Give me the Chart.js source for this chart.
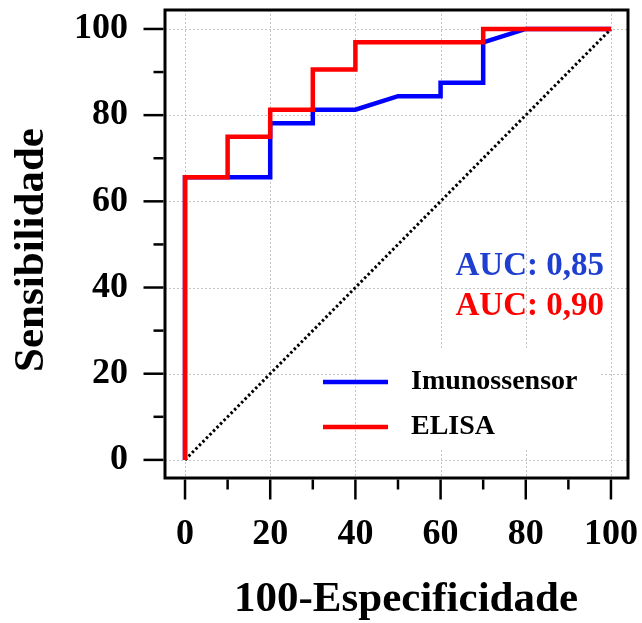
<!DOCTYPE html>
<html><head><meta charset="utf-8">
<script src="https://cdn.jsdelivr.net/npm/chart.js@4/dist/chart.umd.min.js"></script>
<style>html,body{margin:0;padding:0;background:#fff;}#wrap{width:642px;height:623px;}</style>
</head><body><div id="wrap"><canvas id="c" width="642" height="623"></canvas></div>
<script>
const imunoX = [0,0,20,20,30,30,40,50,60,60,70,70,80,100];
const imunoY = [0,65.6,65.6,78.1,78.1,81.25,81.25,84.4,84.4,87.5,87.5,96.9,100,100];
const elisaX = [0,0,10,10,20,20,30,30,40,40,70,70,100];
const elisaY = [0,65.6,65.6,75,75,81.25,81.25,90.6,90.6,96.9,96.9,100,100];
const refX = [0,100];
const refY = [0,100];
const tickValues = [0,10,20,30,40,50,60,70,80,90,100];
const seriesNames = ['Imunossensor','ELISA'];
const aucLabels = ['AUC: 0,85','AUC: 0,90'];
const xTitle = '100-Especificidade';
const yTitle = 'Sensibilidade';

const pts = (xs, ys) => xs.map((x,i)=>({x:x, y:ys[i]}));
const FONT = '"Liberation Serif", "Times New Roman", serif';

const decor = {
  id:'decor',
  beforeDatasetsDraw(chart){
    const {ctx, chartArea:a, scales:{x,y}} = chart;
    ctx.save();
    ctx.strokeStyle = '#c4c4c4'; ctx.lineWidth = 1; ctx.setLineDash([2,2]);
    tickValues.filter(v=>v%20===0).forEach(v=>{
      const px = Math.round(x.getPixelForValue(v))+0.5;
      ctx.beginPath(); ctx.moveTo(px,a.top); ctx.lineTo(px,a.bottom); ctx.stroke();
      const py = Math.round(y.getPixelForValue(v))+0.5;
      ctx.beginPath(); ctx.moveTo(a.left,py); ctx.lineTo(a.right,py); ctx.stroke();
    });
    ctx.setLineDash([]);
    ctx.fillStyle = '#fff';
    ctx.fillRect(x.getPixelForValue(40.6), y.getPixelForValue(25.5), x.getPixelForValue(97.4)-x.getPixelForValue(40.6), y.getPixelForValue(2.3)-y.getPixelForValue(25.5));
    ctx.restore();
  },
  afterDatasetsDraw(chart){
    const {ctx, chartArea:a, scales:{x,y}} = chart;
    ctx.save();
    ctx.strokeStyle = '#000'; ctx.lineWidth = 3;
    ctx.strokeRect(a.left, a.top, a.right-a.left, a.bottom-a.top);
    ctx.lineWidth = 2.5;
    tickValues.forEach(v=>{
      const len = v%20===0 ? 20 : 10;
      const px = x.getPixelForValue(v);
      ctx.beginPath(); ctx.moveTo(px, a.bottom+1.5); ctx.lineTo(px, a.bottom+1.5+len); ctx.stroke();
      const py = y.getPixelForValue(v);
      ctx.beginPath(); ctx.moveTo(a.left-1.5, py); ctx.lineTo(a.left-1.5-len, py); ctx.stroke();
    });
    const colors = ['#0000ff','#ff0000'];
    const ly = [382, 427];
    ctx.font = 'bold 28px ' + FONT;
    ctx.textBaseline = 'middle'; ctx.textAlign = 'left';
    seriesNames.forEach((n,i)=>{
      ctx.strokeStyle = colors[i]; ctx.lineWidth = 4.5;
      ctx.beginPath(); ctx.moveTo(323, ly[i]); ctx.lineTo(388, ly[i]); ctx.stroke();
      ctx.fillStyle = '#000';
      ctx.fillText(n, 411, ly[i]);
    });
    ctx.font = 'bold 33px ' + FONT;
    ctx.textAlign = 'right';
    ctx.fillStyle = '#1f3fd0'; ctx.fillText(aucLabels[0], 604, 266);
    ctx.fillStyle = '#ff0000'; ctx.fillText(aucLabels[1], 604, 306);
    ctx.fillStyle = '#000';
    ctx.font = 'bold 43px ' + FONT;
    ctx.textAlign = 'center';
    ctx.fillText(xTitle, 406, 600);
    ctx.translate(32, 250); ctx.rotate(-Math.PI/2);
    ctx.fillText(yTitle, 0, 0);
    ctx.restore();
  }
};

const noPad = s => { s.paddingTop = 0; s.paddingBottom = 0; s.paddingLeft = 0; s.paddingRight = 0; };

new Chart(document.getElementById('c'), {
  type:'scatter',
  data:{datasets:[
    {label:'ref', data:pts(refX,refY), showLine:true, borderColor:'#000', borderWidth:3, borderDash:[2.5,2.5], pointRadius:0, order:3},
    {label:seriesNames[0], data:pts(imunoX,imunoY), showLine:true, borderColor:'#0000ff', borderWidth:4.5, pointRadius:0, order:2},
    {label:seriesNames[1], data:pts(elisaX,elisaY), showLine:true, borderColor:'#ff0000', borderWidth:4.5, pointRadius:0, order:1}
  ]},
  options:{
    responsive:false, animation:false, devicePixelRatio:1,
    layout:{padding:{top:10, right:14, left:0, bottom:0}},
    plugins:{legend:{display:false}, tooltip:{enabled:false}},
    scales:{
      x:{type:'linear', min:-4.7, max:104,
        afterBuildTicks:s=>{s.ticks = tickValues.map(v=>({value:v}));},
        afterFit:s=>{s.height = 145; noPad(s);},
        grid:{display:true, drawOnChartArea:false, drawTicks:false},
        border:{display:false},
        ticks:{padding:35, color:'#000', autoSkip:false, maxRotation:0, font:{family:FONT, size:36, weight:'bold'}, callback:v=> v%20===0 ? String(v) : ''}
      },
      y:{type:'linear', min:-4.2, max:104.4,
        afterBuildTicks:s=>{s.ticks = tickValues.map(v=>({value:v}));},
        afterFit:s=>{s.width = 165; noPad(s);},
        grid:{display:true, drawOnChartArea:false, drawTicks:false},
        border:{display:false},
        ticks:{padding:37, color:'#000', autoSkip:false, font:{family:FONT, size:36, weight:'bold'}, callback:v=> v%20===0 ? String(v) : ''}
      }
    }
  },
  plugins:[decor]
});
</script></body></html>
